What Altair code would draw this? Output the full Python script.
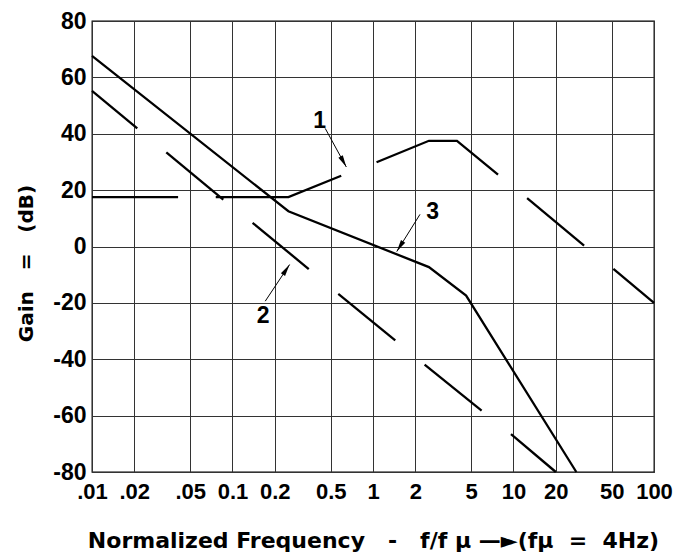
import math
import altair as alt
import pandas as pd

# ---------------- data ----------------
x_ticks = [0.01, 0.02, 0.05, 0.1, 0.2, 0.5, 1, 2, 5, 10, 20, 50, 100]
x_labels = [".01", ".02", ".05", "0.1", "0.2", "0.5", "1", "2", "5", "10", "20", "50", "100"]
y_ticks = [-80, -60, -40, -20, 0, 20, 40, 60, 80]

# Curve 1 (long-dash curve): dash id, normalized frequency, gain dB
c1_seg = [0, 0, 1, 1, 1, 2, 2, 2, 2, 3, 3, 4, 4]
c1_f = [0.01, 0.041, 0.076, 0.25, 0.594, 1.06, 2.5, 3.96, 7.76, 12.5, 31.8, 51.4, 100]
c1_db = [17.5, 17.5, 17.5, 17.5, 25.1, 29.9, 37.5, 37.5, 25.5, 17.2, 0.3, -7.9, -20]

# Curve 2 (long-dash straight line)
c2_seg = [0, 0, 1, 1, 2, 2, 3, 3, 4, 4, 5, 5]
c2_f = [0.01, 0.021, 0.0338, 0.086, 0.139, 0.349, 0.566, 1.44, 2.33, 5.93, 9.6, 20]
c2_db = [55.2, 41.9, 33.4, 16.6, 8.4, -8.0, -16.8, -33.3, -41.9, -58.2, -66.6, -80]

# Curve 3 (solid)
c3_f = [0.01, 0.25, 2.5, 4.6, 28]
c3_db = [67.6, 12.5, -7.3, -17.4, -80]

# Callout labels and arrows
call_label = ["1", "2", "3"]
label_f = [0.417, 0.165, 2.66]
label_db = [44.7, -24.7, 12.3]
arrow_f1 = [0.457, 0.171, 2.16]
arrow_db1 = [41.9, -19.4, 11.4]
arrow_f2 = [0.646, 0.255, 1.476]
arrow_db2 = [28.2, -6.4, -1.8]

# ---------------- layout ----------------
W, H = 562, 451
px_dec = W / 4.0
px_db = H / 160.0

keys, fs, dbs, ords = [], [], [], []
for name, segs, f, d in [("1", c1_seg, c1_f, c1_db), ("2", c2_seg, c2_f, c2_db),
                         ("3", [0] * len(c3_f), c3_f, c3_db)]:
    for i, (s, fv, dv) in enumerate(zip(segs, f, d)):
        keys.append(f"{name}-{s}")
        fs.append(fv)
        dbs.append(dv)
        ords.append(i)
df_lines = pd.DataFrame({"key": keys, "f": fs, "db": dbs, "ord": ords})

angles = []
for a, b, c, d in zip(arrow_f1, arrow_db1, arrow_f2, arrow_db2):
    dx = (math.log10(c) - math.log10(a)) * px_dec
    dy = -(d - b) * px_db
    angles.append(math.degrees(math.atan2(dx, -dy)) % 360)

df_arrows = pd.DataFrame({"f1": arrow_f1, "db1": arrow_db1, "f2": arrow_f2,
                          "db2": arrow_db2, "ang": angles})
df_labels = pd.DataFrame({"lab": call_label, "lf": label_f, "ldb": label_db})

x_scale = alt.Scale(type="log", domain=[0.01, 100], nice=False)
y_scale = alt.Scale(domain=[-80, 80], nice=False, zero=False)

x_label_expr = ("[" + ",".join(f"'{s}'" for s in x_labels) + "][indexof([" +
                ",".join(repr(v) for v in x_ticks) + "], datum.value)]")
y_label_expr = "datum.value < 0 ? '-' + abs(datum.value) : '' + datum.value"

common_axis = dict(grid=True, ticks=False, domain=False, labelOverlap=False,
                   labelFont="Liberation Sans", labelFontWeight="bold",
                   labelColor="black", titleFont="DejaVu Sans", titleFontWeight="bold",
                   titleColor="black", gridColor="#333333", gridOpacity=1, gridWidth=1)

NB = "\u00a0"
x_title = f"Normalized Frequency{NB} {NB}-{NB} {NB}f/f µ —►(fµ {NB}={NB} 4Hz)"
y_title = f"Gain {NB}{NB}={NB}{NB} (dB)"

x_axis = alt.Axis(values=x_ticks, labelExpr=x_label_expr, title=x_title, labelFlush=False,
                  labelFontSize=22, labelPadding=9, titleFontSize=22, titleX=281,
                  titleY=75, titleBaseline="alphabetic", titleAlign="center", **common_axis)
y_axis = alt.Axis(values=y_ticks, labelExpr=y_label_expr, title=y_title, labelPadding=6,
                  labelFontSize=23, labelFlush=False, titleFontSize=20, titleAngle=270,
                  titleX=-60, titleY=242, titleBaseline="alphabetic", titleAlign="center",
                  **common_axis)

def xenc(field):
    return alt.X(field, type="quantitative", scale=x_scale, axis=x_axis, title=x_title)

def yenc(field):
    return alt.Y(field, type="quantitative", scale=y_scale, axis=y_axis, title=y_title)

lines = alt.Chart(df_lines).mark_line(color="black", strokeWidth=2.3, strokeCap="butt").encode(
    x=xenc("f"), y=yenc("db"), detail="key:N", order="ord:Q",
)

shafts = alt.Chart(df_arrows).mark_rule(color="black", strokeWidth=1).encode(
    x=xenc("f1"), x2="f2:Q", y=yenc("db1"), y2="db2:Q",
)

heads = alt.Chart(df_arrows).mark_point(
    shape="M0,0L0.5,2.4L-0.5,2.4Z", filled=True, size=100, color="black",
    opacity=1, strokeWidth=0
).encode(
    x=xenc("f2"), y=yenc("db2"), angle=alt.Angle("ang:Q", scale=None),
)

texts = alt.Chart(df_labels).mark_text(
    font="Liberation Sans", fontSize=23, fontWeight="bold", color="black",
    align="center", baseline="middle"
).encode(
    x=xenc("lf"), y=yenc("ldb"), text="lab:N",
)

chart = alt.layer(lines, shafts, heads, texts).properties(
    width=W, height=H,
    autosize=alt.AutoSizeParams(type="none"),
    padding={"left": 84, "top": 13, "right": 19, "bottom": 85},
    background="white",
).configure_view(stroke="black", strokeWidth=1.3)

chart.save("out.html", embed_options={"renderer": "svg", "actions": False})
